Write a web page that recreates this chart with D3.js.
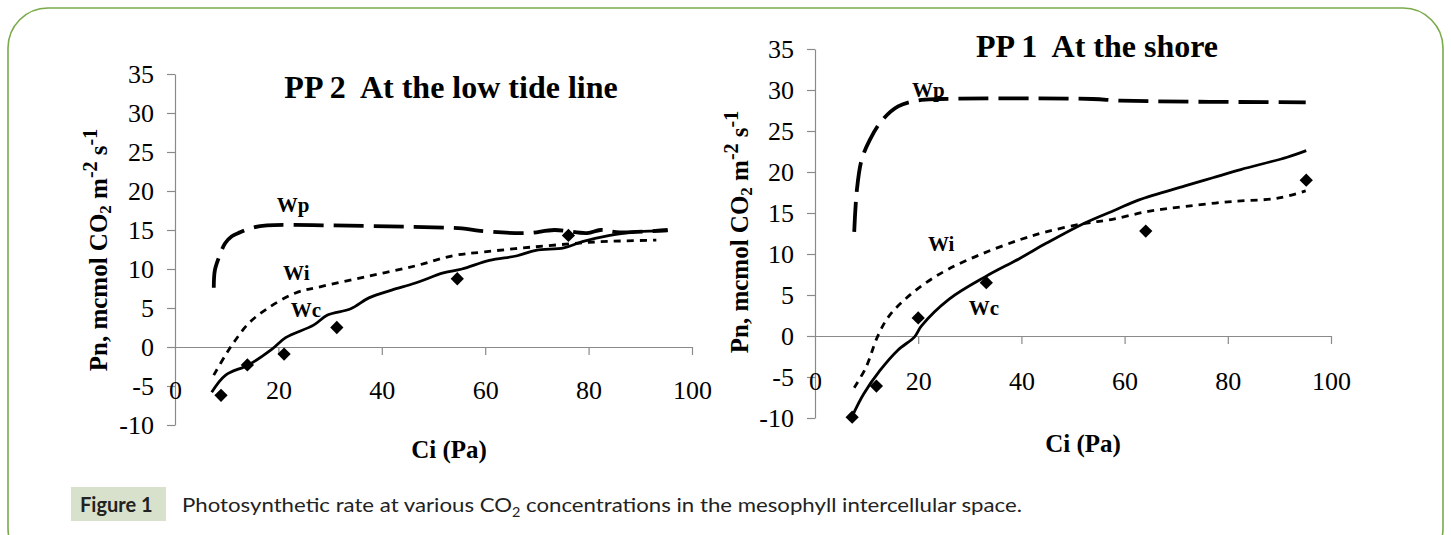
<!DOCTYPE html>
<html>
<head>
<meta charset="utf-8">
<script src="https://cdn.jsdelivr.net/npm/d3@7"></script>
<style>
  body { margin: 0; background: #fff; }
  svg text { font-family: "Liberation Serif", "Times New Roman", serif; fill: #000; }
  svg text.caption { font-family: Lato, "Open Sans", sans-serif; fill: #222; }
</style>
</head>
<body>
<div id="chart"></div>
<script>
// axis ticks
var ciTicks = [0, 20, 40, 60, 80, 100];
var pnTicks = [-10, -5, 0, 5, 10, 15, 20, 25, 30, 35];

// PP 2 - at the low tide line  [Ci, Pn]
var pp2Wp = [[7.5, 7.6], [7.7, 9.8], [8.5, 11.5], [9.7, 13.3], [11, 14.2], [12.6, 14.7], [15, 15.3], [17.8, 15.6],
  [28.6, 15.6], [45.6, 15.4], [55.5, 15.2], [59, 14.9], [68, 14.6], [73.4, 15.0], [79.7, 14.6], [82.3, 15.0], [86, 14.7], [95.3, 15.0]];
var pp2Wi = [[7.5, -3.6], [9.8, -1], [11.6, 0.8], [14.2, 3.0], [17.8, 4.9], [23.2, 6.9], [28.6, 7.8], [37.5, 9.1],
  [46.5, 10.4], [53.7, 11.7], [59.9, 12.2], [68.9, 12.8], [77.9, 13.3], [82.3, 13.5], [93.1, 13.7]];
var pp2Wc = [[7.1, -5.8], [9.8, -3.6], [14.2, -2.3], [18.7, -0.3], [21.4, 1.2], [26.8, 2.8], [29.5, 4.1], [34, 4.9],
  [37.5, 6.3], [41.9, 7.3], [46.5, 8.2], [51.9, 9.5], [55.5, 10.0], [60.8, 11.1], [66.2, 11.7], [69.8, 12.4],
  [75.2, 12.7], [78.8, 13.5], [84.1, 14.3], [89.5, 14.8], [95.3, 14.9]];
var pp2Obs = [[8.9, -6.2], [14.0, -2.3], [21.1, -0.9], [31.3, 2.5], [54.6, 8.75], [76.1, 14.3]];

// PP 1 - at the shore
var pp1Wp = [[7.6, 12.7], [8.1, 17.7], [9.0, 21.4], [10.6, 23.9], [13.0, 26.3], [16.1, 28.0], [19.7, 28.7], [24.2, 28.9],
  [53.8, 28.9], [59.2, 28.7], [95.1, 28.5]];
var pp1Wi = [[7.6, -6.3], [9.9, -3.8], [12.1, -0.1], [14.3, 2.4], [17.5, 4.5], [21.5, 6.5], [26.0, 8.2], [32.3, 10.0],
  [39.5, 11.7], [44.8, 12.7], [52, 13.7], [57.4, 14.2], [64.6, 15.2], [71.7, 15.8], [80.7, 16.4], [89.7, 16.8], [95.1, 17.7]];
var pp1Wc = [[7.2, -9.8], [9.4, -7.1], [12.6, -4.2], [16.1, -1.7], [19.3, -0.1], [20.6, 1.2], [26, 4.5], [33.2, 7.3],
  [39.5, 9.4], [44.8, 11.3], [52, 13.7], [58.3, 15.4], [62.8, 16.6], [71.7, 18.3], [77.1, 19.3], [82.5, 20.3],
  [91.5, 21.8], [95.2, 22.6]];
var pp1Obs = [[7.2, -9.9], [11.9, -6.1], [20.0, 2.2], [33.2, 6.5], [64.1, 12.8], [95.2, 19.0]];

var svgWidth = 1451;
var svgHeight = 535;

var svg = d3.select("#chart")
  .append("svg")
  .attr("width", svgWidth)
  .attr("height", svgHeight);

// frame
svg.append("rect")
  .attr("x", 8).attr("y", 8)
  .attr("width", 1435).attr("height", 560)
  .attr("rx", 40).attr("ry", 40)
  .attr("fill", "none")
  .attr("stroke", "#7aaa4a")
  .attr("stroke-width", 1.6);

// panel layout (pixels) + label spots (data units)
var panels = [
  {
    title: "PP 2\u00a0 At the low tide line", titleX: 451, titleY: 98,
    x0: 175, x1: 692, yTop: 74, yBot: 425,
    yTitleX: 107, yTitleY: 250, xTitleX: 449, xTitleY: 458,
    wp: pp2Wp, wi: pp2Wi, wc: pp2Wc, obs: pp2Obs,
    labels: [["Wp", 19.7, 17.3], ["Wi", 20.9, 8.6], ["Wc", 22.4, 3.9]]
  },
  {
    title: "PP 1\u00a0 At the shore", titleX: 1097, titleY: 57,
    x0: 815, x1: 1331, yTop: 49, yBot: 418,
    yTitleX: 748, yTitleY: 232, xTitleX: 1083, xTitleY: 452,
    wp: pp1Wp, wi: pp1Wi, wc: pp1Wc, obs: pp1Obs,
    labels: [["Wp", 18.8, 29.1], ["Wi", 21.9, 10.4], ["Wc", 29.8, 2.6]]
  }
];

var plain = function(d) { return String(d); };   // keep "-5", not "−5"

panels.forEach(function(p) {
  var x = d3.scaleLinear().domain([0, 100]).range([p.x0, p.x1]);
  var y = d3.scaleLinear().domain([-10, 35]).range([p.yBot, p.yTop]);
  var g = svg.append("g");

  // y axis
  var yAxis = g.append("g")
    .attr("transform", `translate(${p.x0},0)`)
    .call(d3.axisLeft(y).tickValues(pnTicks).tickFormat(plain)
      .tickSize(8).tickPadding(13).tickSizeOuter(0));

  // x axis at zero, labels dropped to the -5 level
  var xAxis = g.append("g")
    .attr("transform", `translate(0,${y(0)})`)
    .call(d3.axisBottom(x).tickValues(ciTicks).tickFormat(plain)
      .tickSize(8).tickSizeOuter(0));
  xAxis.selectAll(".tick text")
    .attr("y", y(-5) - y(0) + 12.5)
    .attr("dy", null);

  [yAxis, xAxis].forEach(function(a) {
    a.select(".domain").attr("stroke", "#8a8a8a").attr("stroke-width", 1.2);
    a.selectAll(".tick line").attr("stroke", "#8a8a8a").attr("stroke-width", 1.2);
    a.selectAll(".tick text")
      .attr("font-size", 26)
      .attr("fill", "#000");
  });
  xAxis.selectAll(".tick").filter(function(d) { return d === 0; }).select("line").remove();

  var line = d3.line()
    .x(function(d) { return x(d[0]); })
    .y(function(d) { return y(d[1]); })
    .curve(d3.curveCatmullRom.alpha(0.5));

  g.append("path").datum(p.wc)
    .attr("d", line).attr("fill", "none")
    .attr("stroke", "#000").attr("stroke-width", 2.8);

  g.append("path").datum(p.wi)
    .attr("d", line).attr("fill", "none")
    .attr("stroke", "#000").attr("stroke-width", 2.8)
    .attr("stroke-dasharray", "7,6");

  g.append("path").datum(p.wp)
    .attr("d", line).attr("fill", "none")
    .attr("stroke", "#000").attr("stroke-width", 3.8)
    .attr("stroke-dasharray", "30,10");

  // observed points
  g.selectAll(".obs")
    .data(p.obs)
    .enter()
    .append("path")
    .attr("class", "obs")
    .attr("d", d3.symbol().type(d3.symbolSquare).size(88))
    .attr("transform", function(d) { return `translate(${x(d[0])},${y(d[1])}) rotate(45)`; })
    .attr("fill", "#000");

  // curve labels
  g.selectAll(".lbl")
    .data(p.labels)
    .enter()
    .append("text")
    .attr("class", "lbl")
    .attr("x", function(d) { return x(d[1]); })
    .attr("y", function(d) { return y(d[2]); })
    .attr("font-size", 21)
    .attr("font-weight", "bold")
    .text(function(d) { return d[0]; });

  // titles
  g.append("text")
    .attr("x", p.titleX).attr("y", p.titleY)
    .attr("text-anchor", "middle")
    .attr("font-size", 32).attr("font-weight", "bold")
    .text(p.title);

  g.append("text")
    .attr("x", p.xTitleX).attr("y", p.xTitleY)
    .attr("text-anchor", "middle")
    .attr("font-size", 25).attr("font-weight", "bold")
    .text("Ci (Pa)");

  var yt = g.append("text")
    .attr("transform", `translate(${p.yTitleX},${p.yTitleY}) rotate(-90)`)
    .attr("text-anchor", "middle")
    .attr("font-size", 25).attr("font-weight", "bold");
  yt.append("tspan").text("Pn, mcmol CO");
  yt.append("tspan").attr("font-size", 17).attr("dy", 4).text("2");
  yt.append("tspan").attr("dy", -4).text(" m");
  yt.append("tspan").attr("font-size", 20).attr("dy", -10).text("-2");
  yt.append("tspan").attr("dy", 10).text(" s");
  yt.append("tspan").attr("font-size", 20).attr("dy", -10).text("-1");
});

// caption
var cap = svg.append("g");
cap.append("rect")
  .attr("x", 71).attr("y", 487)
  .attr("width", 95).attr("height", 34)
  .attr("fill", "#d8e1cb");
cap.append("text")
  .attr("class", "caption")
  .attr("x", 80).attr("y", 512)
  .attr("font-weight", "bold").attr("font-size", 20)
  .text("Figure 1");
var ct = cap.append("text")
  .attr("class", "caption")
  .attr("x", 182).attr("y", 512)
  .attr("font-size", 20)
  .attr("textLength", 840)
  .attr("lengthAdjust", "spacingAndGlyphs");
ct.append("tspan").text("Photosynthetic rate at various CO");
ct.append("tspan").attr("font-size", 13).attr("dy", 5).text("2");
ct.append("tspan").attr("dy", -5).text(" concentrations in the mesophyll intercellular space.");
</script>
</body>
</html>
